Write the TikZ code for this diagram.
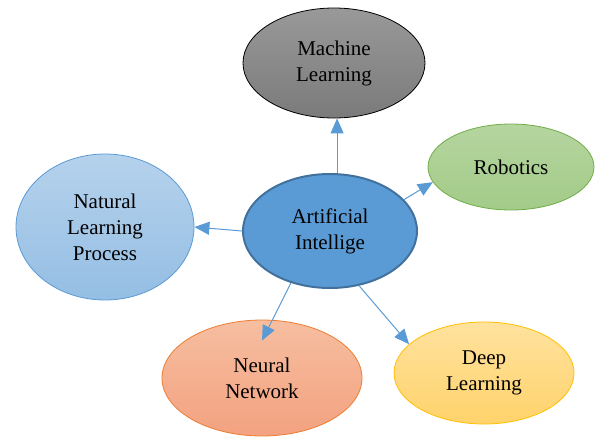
\documentclass[tikz,border=0pt]{standalone}
\usepackage{fontspec}
\setmainfont{Liberation Serif}
\usetikzlibrary{shapes.geometric}
\usetikzlibrary{arrows.meta}

\definecolor{aiblue}{HTML}{5B9BD5}
\definecolor{aiedge}{HTML}{41719C}

\begin{document}
\begin{tikzpicture}[x=1pt,y=-1pt,
  topic/.style={ellipse,line width=0.8pt,align=center,inner sep=0pt,
    font=\fontsize{21}{26}\selectfont},
  link/.style={aiblue,line width=1pt,-{Triangle[length=15pt,width=13pt]}}]
 \useasboundingbox (0,0) rectangle (595,437);
 \node[topic,minimum width=182pt,minimum height=110pt,draw=black,
   top color=black!40,bottom color=black!52](ml) at (334,63) {Machine\\Learning};
 \node[topic,minimum width=166pt,minimum height=86pt,draw={rgb,255:red,112;green,173;blue,71},
   top color={rgb,255:red,181;green,213;blue,160},bottom color={rgb,255:red,163;green,203;blue,136}](rob) at (511,167) {Robotics};
 \node[topic,minimum width=178pt,minimum height=146pt,draw=aiblue,
   top color=aiblue!45,bottom color=aiblue!65](nlp) at (105,227) {Natural\\Learning\\Process};
 \node[topic,minimum width=200pt,minimum height=116pt,draw={rgb,255:red,237;green,125;blue,49},
   top color={rgb,255:red,246;green,190;blue,160},bottom color={rgb,255:red,243;green,162;blue,128}](nn) at (262,378) {Neural\\Network};
 \node[topic,minimum width=180pt,minimum height=102pt,draw={rgb,255:red,255;green,192;blue,0},
   top color={rgb,255:red,255;green,226;blue,158},bottom color={rgb,255:red,255;green,211;blue,108}](dl) at (484,373) {Deep\\Learning};
 \node[topic,minimum width=174pt,minimum height=114pt,draw=aiedge,line width=2pt,
   fill=aiblue](ai) at (330,231) {Artificial\\Intellige};
 \coordinate (nntip) at ([yshift=-21pt]nn.north);
 \draw[link] (ai.83) -- (ai.83 |- ml.south);
 \draw[link] (ai.23) -- (rob.191);
 \draw[link] (ai.west) -- (nlp.east);
 \draw[link] (ai.233) -- (nntip);
 \draw[link] (ai.298) -- (dl.159);
\end{tikzpicture}
\end{document}
